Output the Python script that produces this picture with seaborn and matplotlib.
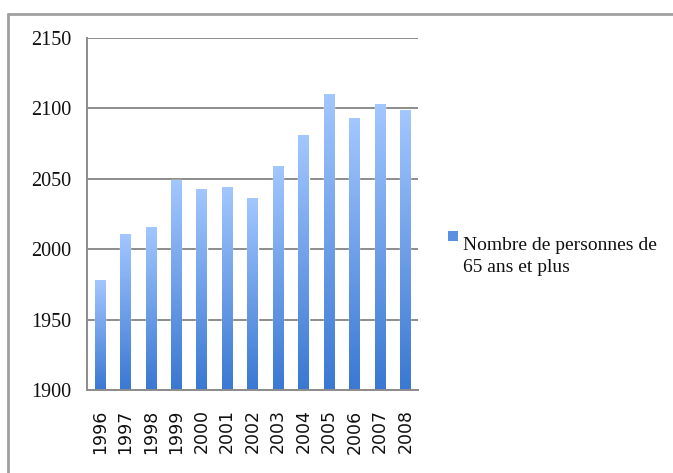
import numpy as np
import pandas as pd
import matplotlib
matplotlib.use('Agg')
import matplotlib.pyplot as plt
import seaborn as sns
from matplotlib.colors import LinearSegmentedColormap
from matplotlib.lines import Line2D
from matplotlib.patches import Rectangle

# Data
years = ['1996', '1997', '1998', '1999', '2000', '2001', '2002',
         '2003', '2004', '2005', '2006', '2007', '2008']
values = [1978, 2011, 2016, 2049, 2043, 2044, 2036,
          2059, 2081, 2110, 2093, 2103, 2099]
series_name = 'Nombre de personnes de\n65 ans et plus'
y_ticks = [1900, 1950, 2000, 2050, 2100, 2150]

df = pd.DataFrame({'Year': years, 'Value': values})

sns.set_style('white')
grey = '#8c8c8c'
top_col = '#a3c7ff'
bot_col = '#3a78d2'
grad = LinearSegmentedColormap.from_list('bargrad', [bot_col, top_col])

fig = plt.figure(figsize=(6.73, 4.73), dpi=100)
ax = fig.add_axes([0.1293, 0.1755, 0.4918, 0.7442])

sns.barplot(data=df, x='Year', y='Value', color=bot_col, width=0.4, ax=ax)
ax.set_ylim(1900, 2150)
ax.set_xlim(-0.5, len(years) - 0.5)

# gradient fill inside each bar
ramp = np.linspace(0, 1, 256).reshape(-1, 1)
for bar in ax.patches:
    x0, w = bar.get_x(), bar.get_width()
    h = bar.get_height()
    img = ax.imshow(ramp, cmap=grad, origin='lower', aspect='auto',
                    extent=(x0, x0 + w, 1900, h), zorder=bar.get_zorder() + 0.1)
    img.set_clip_path(bar)
ax.set_xlim(-0.5, len(years) - 0.5)
ax.set_ylim(1900, 2150)

# grid and axes styling
ax.set_yticks(y_ticks)
ax.yaxis.grid(True, color=grey, linewidth=1.4)
ax.set_axisbelow(True)
for s in ['top', 'right']:
    ax.spines[s].set_visible(False)
for s in ['left', 'bottom']:
    ax.spines[s].set_color(grey)
    ax.spines[s].set_linewidth(1.4)

ax.set_xticks(range(len(years)))
ax.set_xticklabels(years, rotation=90, fontsize=12.5, family='DejaVu Sans', color='#111111')
ax.set_xticks(np.arange(-0.5, len(years), 1), minor=True)
ax.tick_params(axis='x', which='major', length=0, pad=14)
ax.tick_params(axis='x', which='minor', length=5, color=grey, width=1.4, direction='out')
ax.tick_params(axis='y', length=6, color=grey, width=1.4, direction='out', pad=5)
for lab in ax.get_yticklabels():
    lab.set_family('Liberation Serif')
    lab.set_fontsize(14.5)
    lab.set_color('#111111')
ax.set_xlabel('')
ax.set_ylabel('')

# legend (marker beside the first line of the label, as in the original)
fig.add_artist(Rectangle((448 / 673, 1 - 241 / 473), 10 / 673, 10 / 473,
                         transform=fig.transFigure, facecolor='#5a90e0', edgecolor='none'))
fig.text(463 / 673, 1 - 271.5 / 473, series_name, va='baseline', ha='left',
         family='Liberation Serif', fontsize=14, linespacing=1.33, color='#111111')

# outer chart frame
fig.add_artist(Line2D([8 / 673, 1], [1 - 14 / 473, 1 - 14 / 473], color='#a0a0a0', linewidth=2))
fig.add_artist(Line2D([8 / 673, 8 / 673], [0, 1 - 14 / 473], color='#a0a0a0', linewidth=2))

fig.savefig('out.png', dpi=100)
